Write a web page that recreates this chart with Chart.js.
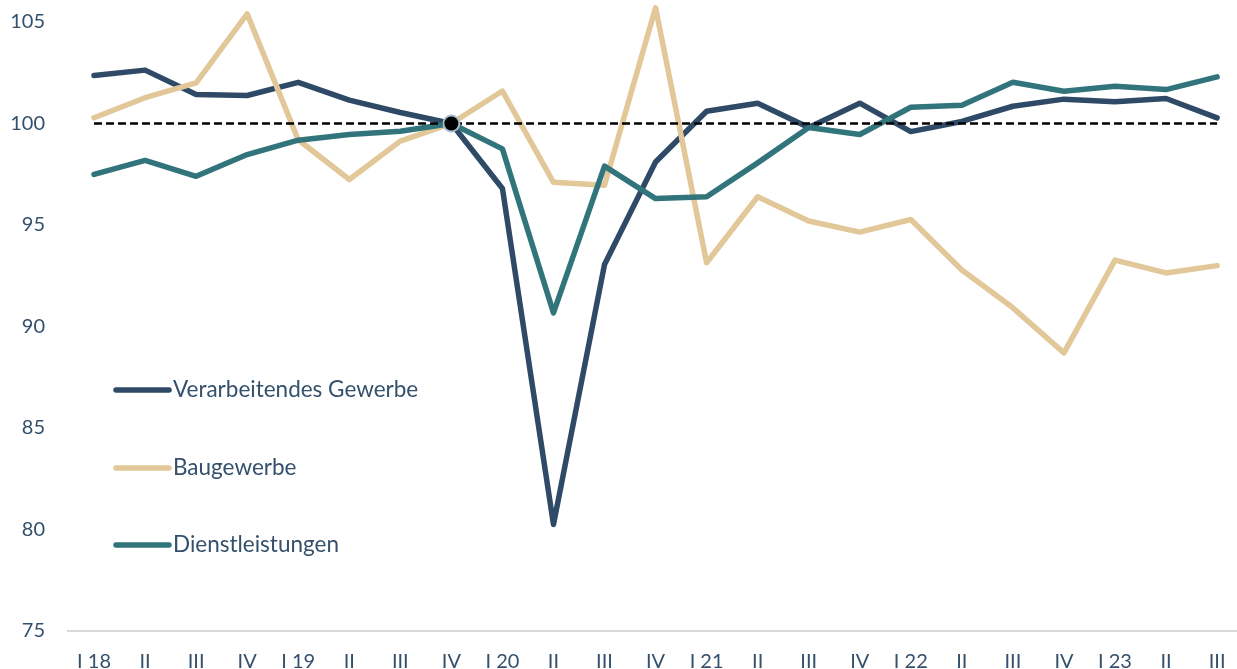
<!DOCTYPE html>
<html>
<head>
<meta charset="utf-8">
<script src="https://cdn.jsdelivr.net/npm/chart.js@4"></script>
<style>
  html, body { margin: 0; padding: 0; background: #ffffff; overflow: hidden; }
  #wrap { width: 1237px; height: 669px; position: relative; }
</style>
</head>
<body>
<div id="wrap"><canvas id="c" width="1237" height="669"></canvas></div>
<script>
const quarters = ['I 18','II','III','IV','I 19','II','III','IV','I 20','II','III','IV',
                  'I 21','II','III','IV','I 22','II','III','IV','I 23','II','III'];
const verarbeitendes = [102.36,102.63,101.43,101.38,102.03,101.15,100.54,100.0,96.8,80.25,93.05,98.1,
                        100.6,101.0,99.8,101.0,99.6,100.1,100.85,101.2,101.07,101.23,100.28];
const baugewerbe = [100.28,101.27,102.0,105.4,99.2,97.24,99.13,100.0,101.6,97.1,96.96,105.7,
                    93.14,96.39,95.2,94.65,95.27,92.78,90.92,88.7,93.27,92.64,93.0];
const dienstleistungen = [97.49,98.18,97.4,98.47,99.18,99.46,99.62,100.0,98.75,90.67,97.9,96.3,
                          96.39,98.06,99.8,99.46,100.8,100.9,102.03,101.59,101.84,101.67,102.3];
const seriesNames = ['Verarbeitendes Gewerbe','Baugewerbe','Dienstleistungen'];
const yTicks = [75,80,85,90,95,100,105];
const baseValue = 100;
const baseIndex = 7;

const navy = '#2E4A66', tan = '#E2C799', teal = '#31747B', textColor = '#34506C';

const pts = arr => arr.map((v, i) => ({x: i, y: v}));

const legendPlugin = {
  id: 'customLegend',
  afterDraw(chart) {
    const ctx = chart.ctx;
    const rows = [390, 468, 545];
    ctx.save();
    seriesNames.forEach((name, k) => {
      const d = chart.data.datasets.find(ds => ds.label === name);
      const y = rows[k];
      ctx.strokeStyle = d.borderColor;
      ctx.lineWidth = 5.5;
      ctx.lineCap = 'round';
      ctx.beginPath();
      ctx.moveTo(116, y);
      ctx.lineTo(169, y);
      ctx.stroke();
      ctx.fillStyle = textColor;
      ctx.font = '22.5px Lato';
      ctx.textBaseline = 'alphabetic';
      ctx.textAlign = 'left';
      ctx.fillText(d.label, 173, y + 7);
    });
    ctx.restore();
  }
};

const lineStyle = { borderWidth: 5.5, pointRadius: 0, borderCapStyle: 'round', borderJoinStyle: 'round', clip: false };

new Chart(document.getElementById('c'), {
  type: 'line',
  data: {
    datasets: [
      { label: 'base', data: [{x: baseIndex, y: baseValue}], showLine: false,
        pointRadius: 8, pointBackgroundColor: '#000000', pointBorderColor: '#A9BCD0',
        pointBorderWidth: 2, order: 0, clip: false },
      { label: 'ref', data: pts(quarters.map(() => baseValue)), borderColor: '#000000',
        borderWidth: 2.5, borderDash: [8, 4], pointRadius: 0, order: 1 },
      Object.assign({ label: seriesNames[2], data: pts(dienstleistungen), borderColor: teal, order: 2 }, lineStyle),
      Object.assign({ label: seriesNames[1], data: pts(baugewerbe), borderColor: tan, order: 3 }, lineStyle),
      Object.assign({ label: seriesNames[0], data: pts(verarbeitendes), borderColor: navy, order: 4 }, lineStyle)
    ]
  },
  options: {
    responsive: false,
    animation: false,
    layout: { autoPadding: false, padding: { top: 22, left: 0, right: 0, bottom: 0 } },
    plugins: { legend: { display: false }, tooltip: { enabled: false } },
    scales: {
      x: {
        type: 'linear', min: -0.51, max: 22.39,
        grid: { display: false, drawTicks: false },
        border: { display: true, color: '#D9D9D9', width: 2 },
        afterBuildTicks: s => { s.ticks = quarters.map((_, i) => ({value: i})); },
        afterFit: s => { s.height = 38; s.paddingLeft = 0; s.paddingRight = 0; },
        ticks: { autoSkip: false, maxRotation: 0, padding: 19, color: textColor,
                 font: { family: 'Lato', size: 20 },
                 callback: v => quarters[v] ?? '' }
      },
      y: {
        min: 75, max: 105,
        grid: { display: false, drawTicks: false },
        border: { display: false },
        afterBuildTicks: s => { s.ticks = yTicks.map(v => ({value: v})); },
        afterFit: s => { s.width = 68; s.paddingTop = 0; s.paddingBottom = 0; },
        ticks: { padding: 23, color: textColor, font: { family: 'Lato', size: 20 } }
      }
    }
  },
  plugins: [legendPlugin]
});
</script>
</body>
</html>
